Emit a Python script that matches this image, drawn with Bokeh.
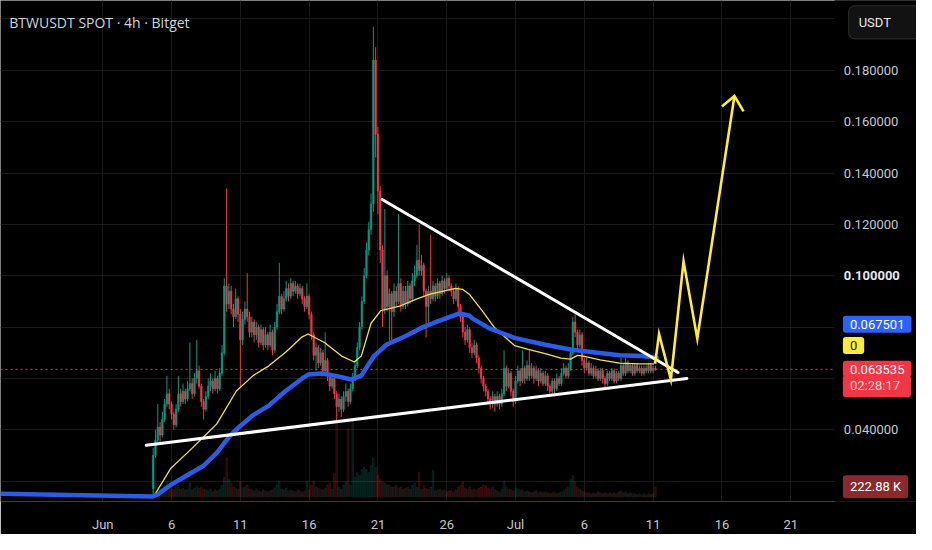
import numpy as np
from bokeh.plotting import figure
from bokeh.models import Range1d, FixedTicker, Label, Span, ColumnDataSource, Grid
from bokeh.core.properties import value
from bokeh.embed import file_html
from bokeh.resources import INLINE

# ---------------- data ----------------
title_text = "BTWUSDT SPOT · 4h · Bitget"
currency_text = "USDT"
ma_value_text = "0.067501"
indicator_text = "0"
last_price = 0.063535
last_price_text = "0.063535"
countdown_text = "02:28:17"
volume_text = "222.88 K"

first_open = 0.017
candle_start_day = 3 + 16 / 24.0   # Jun 4, 16:00 (days after Jun 1)

closes = [
    0.030, 0.036, 0.041, 0.038, 0.044, 0.050, 0.054, 0.050, 0.046, 0.042,
    0.048, 0.054, 0.051, 0.055, 0.052, 0.056, 0.058, 0.054, 0.060, 0.063,
    0.057, 0.051, 0.048, 0.053, 0.057, 0.059, 0.056, 0.060, 0.056, 0.062,
    0.070, 0.096, 0.089, 0.094, 0.087, 0.084, 0.091, 0.085, 0.075, 0.083,
    0.087, 0.084, 0.078, 0.082, 0.077, 0.080, 0.074, 0.079, 0.073, 0.077,
    0.073, 0.078, 0.071, 0.080, 0.086, 0.092, 0.087, 0.091, 0.095, 0.092,
    0.097, 0.094, 0.096, 0.093, 0.095, 0.091, 0.088, 0.092, 0.085, 0.077,
    0.069, 0.072, 0.066, 0.070, 0.063, 0.067, 0.061, 0.057, 0.060, 0.054,
    0.049, 0.052, 0.048, 0.053, 0.055, 0.051, 0.056, 0.060, 0.065, 0.072,
    0.080, 0.090, 0.100, 0.110, 0.118, 0.128, 0.184, 0.155, 0.133, 0.110,
    0.087, 0.100, 0.088, 0.093, 0.086, 0.094, 0.090, 0.097, 0.088, 0.094,
    0.089, 0.096, 0.091, 0.098, 0.100, 0.106, 0.102, 0.104, 0.094, 0.088,
    0.094, 0.091, 0.096, 0.092, 0.097, 0.093, 0.098, 0.095, 0.099, 0.096,
    0.094, 0.091, 0.095, 0.088, 0.084, 0.078, 0.075, 0.079, 0.072, 0.070,
    0.073, 0.068, 0.064, 0.060, 0.057, 0.055, 0.052, 0.050, 0.053, 0.050,
    0.053, 0.050, 0.054, 0.064, 0.057, 0.062, 0.055, 0.051, 0.059, 0.063,
    0.059, 0.064, 0.060, 0.065, 0.061, 0.064, 0.060, 0.063, 0.059, 0.062,
    0.058, 0.061, 0.057, 0.055, 0.059, 0.056, 0.060, 0.058, 0.062, 0.064,
    0.061, 0.064, 0.070, 0.082, 0.078, 0.073, 0.077, 0.067, 0.064, 0.066,
    0.062, 0.064, 0.061, 0.063, 0.060, 0.063, 0.060, 0.058, 0.062, 0.060,
    0.063, 0.059, 0.062, 0.060, 0.065, 0.062, 0.066, 0.063, 0.065, 0.062,
    0.065, 0.063, 0.064, 0.062, 0.064, 0.063, 0.065, 0.063, 0.064, 0.063535,
]
highs = [
    0.033, 0.040, 0.050, 0.043, 0.047, 0.052, 0.061, 0.056, 0.051, 0.047,
    0.050, 0.061, 0.056, 0.058, 0.056, 0.059, 0.074, 0.060, 0.062, 0.075,
    0.065, 0.058, 0.052, 0.055, 0.060, 0.062, 0.060, 0.063, 0.061, 0.064,
    0.073, 0.099, 0.134, 0.097, 0.096, 0.089, 0.095, 0.092, 0.087, 0.086,
    0.090, 0.101, 0.086, 0.084, 0.083, 0.082, 0.081, 0.081, 0.080, 0.080,
    0.078, 0.081, 0.079, 0.082, 0.089, 0.105, 0.093, 0.094, 0.098, 0.097,
    0.099, 0.098, 0.098, 0.097, 0.097, 0.096, 0.092, 0.097, 0.093, 0.086,
    0.078, 0.074, 0.073, 0.072, 0.071, 0.078, 0.068, 0.062, 0.062, 0.061,
    0.055, 0.054, 0.053, 0.055, 0.058, 0.056, 0.058, 0.062, 0.067, 0.074,
    0.082, 0.092, 0.103, 0.113, 0.121, 0.132, 0.197, 0.189, 0.158, 0.135,
    0.112, 0.126, 0.102, 0.095, 0.094, 0.097, 0.096, 0.124, 0.099, 0.096,
    0.096, 0.098, 0.097, 0.101, 0.104, 0.112, 0.120, 0.108, 0.105, 0.095,
    0.096, 0.116, 0.098, 0.097, 0.099, 0.098, 0.100, 0.099, 0.101, 0.100,
    0.097, 0.095, 0.097, 0.096, 0.089, 0.085, 0.080, 0.081, 0.080, 0.074,
    0.075, 0.074, 0.069, 0.065, 0.061, 0.058, 0.056, 0.053, 0.055, 0.054,
    0.055, 0.054, 0.056, 0.071, 0.065, 0.064, 0.063, 0.056, 0.061, 0.065,
    0.064, 0.071, 0.065, 0.067, 0.071, 0.066, 0.065, 0.065, 0.064, 0.064,
    0.063, 0.063, 0.062, 0.058, 0.060, 0.060, 0.062, 0.061, 0.064, 0.066,
    0.065, 0.066, 0.072, 0.084, 0.085, 0.079, 0.079, 0.078, 0.068, 0.068,
    0.067, 0.066, 0.065, 0.065, 0.064, 0.064, 0.064, 0.061, 0.063, 0.063,
    0.064, 0.064, 0.063, 0.063, 0.068, 0.066, 0.068, 0.067, 0.066, 0.066,
    0.066, 0.066, 0.065, 0.065, 0.065, 0.065, 0.066, 0.066, 0.065, 0.065,
]
lows = [
    0.015, 0.029, 0.034, 0.035, 0.037, 0.043, 0.049, 0.048, 0.044, 0.040,
    0.041, 0.047, 0.049, 0.050, 0.050, 0.051, 0.055, 0.052, 0.053, 0.058,
    0.056, 0.049, 0.044, 0.047, 0.052, 0.055, 0.054, 0.055, 0.054, 0.055,
    0.061, 0.069, 0.086, 0.087, 0.085, 0.080, 0.083, 0.082, 0.057, 0.073,
    0.081, 0.082, 0.076, 0.076, 0.074, 0.075, 0.072, 0.073, 0.071, 0.072,
    0.071, 0.072, 0.069, 0.070, 0.079, 0.085, 0.085, 0.086, 0.090, 0.090,
    0.091, 0.092, 0.093, 0.091, 0.092, 0.089, 0.086, 0.087, 0.083, 0.075,
    0.067, 0.063, 0.064, 0.065, 0.061, 0.062, 0.059, 0.055, 0.056, 0.052,
    0.043, 0.047, 0.045, 0.047, 0.051, 0.049, 0.050, 0.055, 0.059, 0.064,
    0.071, 0.079, 0.089, 0.099, 0.108, 0.116, 0.125, 0.146, 0.124, 0.105,
    0.080, 0.085, 0.086, 0.074, 0.075, 0.084, 0.088, 0.089, 0.086, 0.087,
    0.087, 0.088, 0.089, 0.090, 0.096, 0.099, 0.100, 0.100, 0.092, 0.076,
    0.080, 0.089, 0.090, 0.090, 0.091, 0.091, 0.092, 0.093, 0.094, 0.094,
    0.092, 0.089, 0.090, 0.086, 0.082, 0.076, 0.073, 0.074, 0.070, 0.068,
    0.069, 0.066, 0.062, 0.058, 0.055, 0.053, 0.050, 0.048, 0.0485, 0.047,
    0.049, 0.048, 0.049, 0.053, 0.055, 0.056, 0.053, 0.049, 0.050, 0.058,
    0.057, 0.058, 0.058, 0.059, 0.059, 0.060, 0.058, 0.059, 0.057, 0.058,
    0.057, 0.057, 0.055, 0.054, 0.054, 0.053, 0.055, 0.057, 0.057, 0.061,
    0.060, 0.060, 0.063, 0.069, 0.076, 0.071, 0.072, 0.065, 0.062, 0.063,
    0.061, 0.061, 0.060, 0.060, 0.059, 0.059, 0.058, 0.056, 0.057, 0.059,
    0.059, 0.058, 0.058, 0.059, 0.059, 0.061, 0.061, 0.062, 0.062, 0.061,
    0.061, 0.062, 0.062, 0.061, 0.061, 0.062, 0.062, 0.062, 0.062, 0.063,
]
volumes_k = [
    134, 312, 223, 178, 201, 268, 357, 201, 178, 156,
    223, 268, 178, 201, 156, 178, 312, 156, 201, 245,
    201, 223, 178, 156, 134, 178, 112, 156, 134, 178,
    268, 446, 892, 401, 312, 223, 201, 178, 357, 201,
    223, 268, 178, 156, 134, 178, 134, 112, 156, 134,
    112, 134, 156, 201, 268, 357, 178, 156, 201, 134,
    156, 134, 112, 156, 134, 112, 134, 335, 156, 268,
    357, 223, 201, 178, 156, 201, 268, 312, 178, 535,
    1739, 223, 178, 268, 335, 1561, 268, 1739, 446, 558,
    491, 624, 669, 624, 558, 714, 892, 669, 491, 401,
    335, 312, 268, 268, 223, 223, 268, 201, 223, 178,
    201, 223, 178, 268, 312, 223, 558, 178, 245, 201,
    178, 223, 600, 134, 156, 178, 134, 156, 112, 134,
    134, 112, 156, 223, 268, 335, 201, 178, 223, 156,
    178, 156, 201, 223, 268, 245, 201, 178, 223, 156,
    134, 112, 178, 357, 223, 178, 156, 134, 201, 178,
    134, 156, 112, 134, 112, 89, 112, 134, 89, 112,
    89, 112, 89, 67, 89, 112, 67, 89, 112, 134,
    178, 223, 401, 490, 335, 223, 178, 134, 112, 89,
    89, 67, 89, 67, 112, 89, 67, 89, 67, 89,
    67, 89, 67, 112, 134, 89, 112, 67, 89, 67,
    67, 45, 67, 45, 67, 45, 67, 45, 67, 223,
]

# moving-average lines (day offset from Jun 1, price)
yellow_ma_days = [-7.43, 3.64, 3.79, 4.93, 6.14, 7.36, 8.29, 9.71, 10.93, 12.07, 13.29, 14.5,
                  14.93, 16.14, 17.36, 18.29, 18.79, 19.5, 20.21, 21.64, 22.79, 23.79, 25.64,
                  26.14, 26.64, 27.57, 28.5, 29.21, 29.93, 30.93, 32.36, 33.29, 34.0, 34.5,
                  34.93, 36.14, 37.57, 39.0, 40.07]
yellow_ma = [0.0155, 0.0140, 0.0148, 0.0249, 0.0310, 0.0374, 0.0423, 0.0551, 0.0611, 0.0649,
             0.0702, 0.0762, 0.0773, 0.0739, 0.0687, 0.0664, 0.0687, 0.0815, 0.0864, 0.0883,
             0.0909, 0.0928, 0.0951, 0.0947, 0.0928, 0.0864, 0.0796, 0.0762, 0.0728, 0.0713,
             0.0694, 0.0679, 0.0675, 0.0690, 0.0687, 0.0672, 0.0660, 0.0657, 0.0657]
blue_ma_days = [-7.43, 3.64, 4.0, 4.93, 6.14, 7.36, 8.29, 9.21, 9.93, 10.93, 12.07, 13.29,
                14.5, 14.93, 15.93, 16.86, 18.07, 18.79, 19.71, 20.64, 22.07, 23.29, 24.0,
                25.93, 26.64, 26.86, 28.07, 29.0, 29.93, 32.07, 34.0, 35.64, 37.57, 39.21, 40.29]
blue_ma = [0.0151, 0.0140, 0.0148, 0.0185, 0.0223, 0.0261, 0.0310, 0.0374, 0.0412, 0.0457,
           0.0494, 0.0551, 0.0600, 0.0615, 0.0619, 0.0611, 0.0596, 0.0611, 0.0687, 0.0732,
           0.0766, 0.0800, 0.0815, 0.0853, 0.0845, 0.0834, 0.0796, 0.0777, 0.0758, 0.0732,
           0.0713, 0.0702, 0.0690, 0.0687, 0.0680]

# drawings
support_days = [3.16, 42.45]
support_prices = [0.0340, 0.0600]
resistance_days = [20.31, 41.81]
resistance_prices = [0.1297, 0.0623]
forecast_days = [40.14, 40.43, 41.29, 42.21, 43.21, 45.91]
forecast_prices = [0.0657, 0.0773, 0.0596, 0.1056, 0.0755, 0.1700]
arrow_days = [45.0, 45.91, 46.57]
arrow_prices = [0.1659, 0.1700, 0.1640]

# axes
x_tick_days = [0, 5, 10, 15, 20, 25, 30, 35, 40, 45, 50]
x_tick_labels = ["Jun", "6", "11", "16", "21", "26", "Jul", "6", "11", "16", "21"]
price_ticks = [0.04, 0.12, 0.14, 0.16, 0.18]
price_tick_bold = [0.10]
grid_prices = [0.02, 0.04, 0.06, 0.08, 0.10, 0.12, 0.14, 0.16, 0.18, 0.20]

# ---------------- layout constants ----------------
X0, X1 = -7.43, 59.14          # visible days (whole width, price scale column on the right)
Y0, Y1 = 0.01207, 0.20719      # visible prices
SCALE_COL = 53.2               # day where the price-scale column starts
SCALE_TEXT = 53.86             # day where price-scale texts start
TAG_TEXT = 53.79

UP, DOWN = "#089981", "#f23645"
n = len(closes)
t = candle_start_day + np.arange(n) / 6.0
opens = [first_open] + closes[:-1]
is_up = [c >= o for o, c in zip(opens, closes)]
colors = [UP if u else DOWN for u in is_up]
src = ColumnDataSource(dict(
    t=t, o=opens, c=closes, h=highs, l=lows,
    top=np.maximum(opens, closes), bot=np.minimum(opens, closes),
    col=colors, vol=volumes_k,
))

p = figure(width=916, height=534,
           x_range=Range1d(X0, X1), y_range=Range1d(Y0, Y1),
           y_axis_location=None, toolbar_location=None, output_backend="svg",
           min_border_left=0, min_border_top=0, min_border_right=0, min_border_bottom=32,
           background_fill_color="#000000", border_fill_color="#000000",
           outline_line_color=None)
p.extra_y_ranges = {"vol": Range1d(-112, 11418)}

# grid
if len(p.ygrid) == 0:
    p.add_layout(Grid(dimension=1, ticker=FixedTicker(ticks=grid_prices)))
p.xgrid.ticker = FixedTicker(ticks=x_tick_days)
p.ygrid.ticker = FixedTicker(ticks=grid_prices)
p.xgrid.grid_line_color = "#1a1a1a"
p.ygrid.grid_line_color = "#1a1a1a"

# time axis
p.xaxis.ticker = FixedTicker(ticks=x_tick_days)
p.xaxis.major_label_overrides = {d: s for d, s in zip(x_tick_days, x_tick_labels)}
p.xaxis.axis_line_color = None
p.xaxis.major_tick_line_color = None
p.xaxis.minor_tick_line_color = None
p.xaxis.major_label_text_color = "#c5c8ce"
p.xaxis.major_label_text_font = "Roboto"
p.xaxis.major_label_text_font_size = "13px"
p.xaxis.major_label_standoff = 9

# last price line (under the candles)
p.add_layout(Span(location=last_price, dimension="width", line_color=DOWN,
                  line_dash="2 3", line_width=1, level="underlay"))

# volume
p.vbar(x="t", top="vol", bottom=0, width=0.12, color="col", alpha=0.15,
       y_range_name="vol", source=src)

# candles
p.segment(x0="t", y0="l", x1="t", y1="h", color="col", line_width=1, source=src)
p.vbar(x="t", top="top", bottom="bot", width=0.12, fill_color="col", line_color="col",
       line_width=0.5, source=src)

# moving averages
p.line(yellow_ma_days, yellow_ma, color="#f2e24a", line_width=1.3)
p.line(blue_ma_days, blue_ma, color="#2b5ce6", line_width=4.5,
       line_cap="round", line_join="round")

# drawings
p.line(support_days, support_prices, color="#ffffff", line_width=3, line_cap="round")
p.line(resistance_days, resistance_prices, color="#ffffff", line_width=3, line_cap="round")
p.line(forecast_days, forecast_prices, color="#ffeb3b", line_width=2.6, line_join="miter")
p.line(arrow_days, arrow_prices, color="#ffeb3b", line_width=2.6, line_join="miter")

# price scale column
p.quad(left=SCALE_COL, right=X1, bottom=Y0, top=Y1, color="#000000")
p.text(x=[SCALE_TEXT] * len(price_ticks), y=price_ticks,
       text=["%.6f" % v for v in price_ticks], text_font=value("Roboto"),
       text_font_size="13px", text_color="#c5c8ce", text_baseline="middle", text_align="left")
p.text(x=[SCALE_TEXT] * len(price_tick_bold), y=price_tick_bold,
       text=["%.6f" % v for v in price_tick_bold], text_font=value("Roboto"),
       text_font_size="13px", text_font_style="bold", text_color="#e6e8ec",
       text_baseline="middle", text_align="left")

# texts
p.add_layout(Label(x=-6.79, y=0.1987, text=title_text, text_font="Open Sans",
                   text_font_size="14px", text_color="#d1d4dc", text_baseline="middle"))


def tag(x, y, text, bg, fg="#ffffff", pad=None, radius=3, border=None):
    pad = pad or dict(left=7, right=7, top=4, bottom=4)
    return Label(x=x, y=y, text=text, text_font="Roboto", text_font_size="13px",
                 text_color=fg, text_baseline="middle", text_align="left",
                 background_fill_color=bg, background_fill_alpha=1.0,
                 border_line_color=border, padding=pad, border_radius=radius)


p.add_layout(tag(54.21, 0.1987, currency_text, "#121212", "#e6e8ee",
                 pad=dict(left=10, right=31, top=9, bottom=9), radius=6, border="#2f2f2f"))
p.add_layout(tag(TAG_TEXT, 0.08113, ma_value_text, "#2962ff"))
p.add_layout(tag(TAG_TEXT, 0.07283, indicator_text, "#ffeb3b", "#131722"))
p.add_layout(tag(TAG_TEXT, 0.06377, last_price_text, DOWN,
                 pad=dict(left=7, right=7, top=4, bottom=3)))
p.add_layout(tag(TAG_TEXT, 0.05698, countdown_text, DOWN, "#ffd9cc",
                 pad=dict(left=7, right=11, top=3, bottom=4)))
p.add_layout(tag(TAG_TEXT, 0.01778, volume_text, "#8a2a2c"))

open("out.html", "w").write(file_html(p, INLINE))
